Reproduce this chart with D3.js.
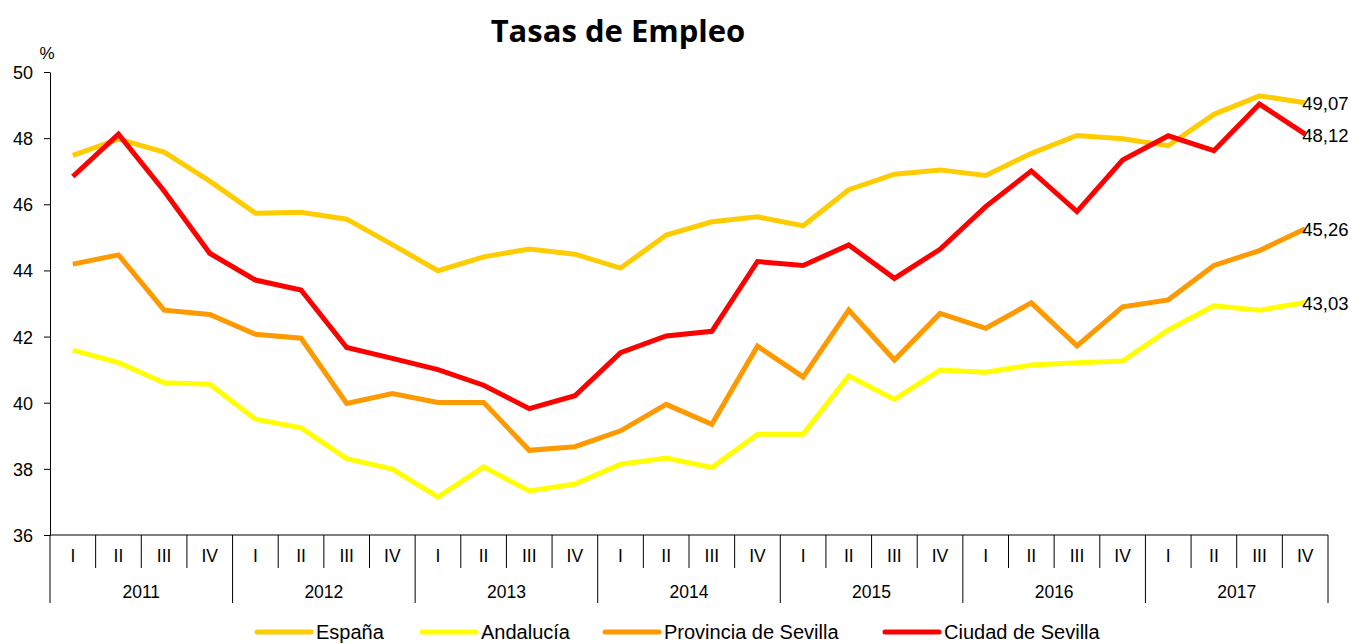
<!DOCTYPE html>
<html>
<head>
<meta charset="utf-8">
<script src="https://cdn.jsdelivr.net/npm/d3@7"></script>
<style>
  body { margin: 0; background: #fff; }
  svg { display: block; font-family: "Liberation Sans", Arial, sans-serif; }
</style>
</head>
<body>
<svg id="chart" width="1351" height="644"></svg>
<script>
// data
var years = ["2011", "2012", "2013", "2014", "2015", "2016", "2017"];
var quarters = ["I", "II", "III", "IV"];
var yTicks = [36, 38, 40, 42, 44, 46, 48, 50];

var espana = [47.48, 47.97, 47.58, 46.70, 45.73, 45.76, 45.55, 44.78, 43.99, 44.41, 44.65, 44.49,
              44.07, 45.07, 45.47, 45.62, 45.35, 46.44, 46.91, 47.04, 46.87, 47.54, 48.08, 47.98,
              47.77, 48.72, 49.28, 49.07];
var andalucia = [41.59, 41.21, 40.60, 40.56, 39.50, 39.24, 38.31, 37.99, 37.15, 38.06, 37.33, 37.54,
                 38.14, 38.33, 38.04, 39.05, 39.05, 40.81, 40.10, 40.99, 40.92, 41.14, 41.21, 41.26,
                 42.20, 42.93, 42.80, 43.03];
var provincia = [44.19, 44.47, 42.80, 42.67, 42.07, 41.95, 39.98, 40.28, 40.01, 40.01, 38.56, 38.67,
                 39.15, 39.95, 39.35, 41.71, 40.78, 42.80, 41.29, 42.70, 42.25, 43.02, 41.72, 42.90,
                 43.11, 44.15, 44.60, 45.26];
var ciudad = [46.84, 48.12, 46.40, 44.52, 43.71, 43.41, 41.67, 41.34, 41.00, 40.53, 39.82, 40.21,
              41.51, 42.02, 42.16, 44.27, 44.15, 44.77, 43.76, 44.64, 45.93, 47.01, 45.78, 47.34,
              48.07, 47.62, 49.03, 48.12];

var series = [
  {name: "España", values: espana, color: "#ffcc00", label: "49,07"},
  {name: "Andalucía", values: andalucia, color: "#ffff00", label: "43,03"},
  {name: "Provincia de Sevilla", values: provincia, color: "#ff9900", label: "45,26"},
  {name: "Ciudad de Sevilla", values: ciudad, color: "#ff0000", label: "48,12"}
];

var margin = {top: 72, right: 23, bottom: 109, left: 50},
    width = 1351,
    height = 644;

var svg = d3.select("#chart");

var periods = [];
years.forEach(y => quarters.forEach(q => periods.push(y + "-" + q)));

var x = d3.scaleBand()
  .domain(periods)
  .range([margin.left, width - margin.right])
  .paddingInner(0).paddingOuter(0);

var y = d3.scaleLinear()
  .domain([36, 50])
  .range([height - margin.bottom, margin.top]);

var y0 = y(36);

// title
svg.append("text")
  .attr("x", 618).attr("y", 42)
  .attr("text-anchor", "middle")
  .style("font-size", "31px")
  .style("font-weight", "bold")
  .style("font-family", "'Open Sans', 'Liberation Sans', sans-serif")
  .text("Tasas de Empleo");

// y axis
var yAxis = svg.append("g")
  .attr("transform", `translate(${margin.left},0)`)
  .call(d3.axisLeft(y).tickValues(yTicks).tickSize(6).tickSizeOuter(0).tickFormat(d3.format("d")));
yAxis.select(".domain").attr("stroke", "#000");
yAxis.selectAll(".tick line").attr("stroke", "#000");
yAxis.selectAll(".tick text")
  .attr("x", -17)
  .attr("dy", "0.36em")
  .style("font-size", "18px")
  .style("font-family", "'Liberation Sans', Arial, sans-serif")
  .attr("fill", "#000");

svg.append("text")
  .attr("x", 47).attr("y", 59)
  .attr("text-anchor", "middle")
  .style("font-size", "17px")
  .text("%");

// x axis: baseline + quarter / year separators
svg.append("line")
  .attr("x1", margin.left).attr("x2", width - margin.right)
  .attr("y1", y0).attr("y2", y0)
  .attr("stroke", "#000").attr("stroke-width", 1.2);

var bw = x.bandwidth();
periods.forEach((p, i) => {
  var left = x(p);
  var isYear = i % 4 === 0;
  svg.append("line")
    .attr("x1", left).attr("x2", left)
    .attr("y1", y0).attr("y2", isYear ? y0 + 68 : y0 + 33)
    .attr("stroke", "#000").attr("stroke-width", 1);
  svg.append("text")
    .attr("x", left + bw / 2).attr("y", y0 + 27)
    .attr("text-anchor", "middle")
    .style("font-size", "17.5px")
    .text(quarters[i % 4]);
});
svg.append("line")
  .attr("x1", width - margin.right).attr("x2", width - margin.right)
  .attr("y1", y0).attr("y2", y0 + 68)
  .attr("stroke", "#000");

years.forEach((yr, j) => {
  var left = x(yr + "-I");
  svg.append("text")
    .attr("x", left + bw * 2).attr("y", y0 + 63)
    .attr("text-anchor", "middle")
    .style("font-size", "17.5px")
    .text(yr);
});

// lines
var line = d3.line()
  .x((d, i) => x(periods[i]) + bw / 2)
  .y(d => y(d));

svg.selectAll("path.serie")
  .data(series)
  .enter().append("path")
  .attr("class", "serie")
  .attr("fill", "none")
  .attr("stroke", d => d.color)
  .attr("stroke-width", 5)
  .attr("stroke-linejoin", "miter")
  .attr("d", d => line(d.values));

// end labels
var last = periods[periods.length - 1];
series.forEach(s => {
  svg.append("text")
    .attr("x", x(last) + bw / 2 - 3)
    .attr("y", y(s.values[s.values.length - 1]) + 7.5)
    .style("font-size", "18.5px")
    .text(s.label);
});

// legend (nudged up a little so the descenders stay inside the picture)
var legendX = [257, 422, 605, 885];
var legend = svg.selectAll("g.leg")
  .data(series)
  .enter().append("g")
  .attr("class", "leg")
  .attr("transform", (d, i) => `translate(${legendX[i]},632)`);
legend.append("line")
  .attr("x1", 0).attr("x2", 54)
  .attr("stroke", d => d.color)
  .attr("stroke-width", 5)
  .attr("stroke-linecap", "round");
legend.append("text")
  .attr("x", 59).attr("y", 7)
  .style("font-size", "20px")
  .text(d => d.name);
</script>
</body>
</html>
